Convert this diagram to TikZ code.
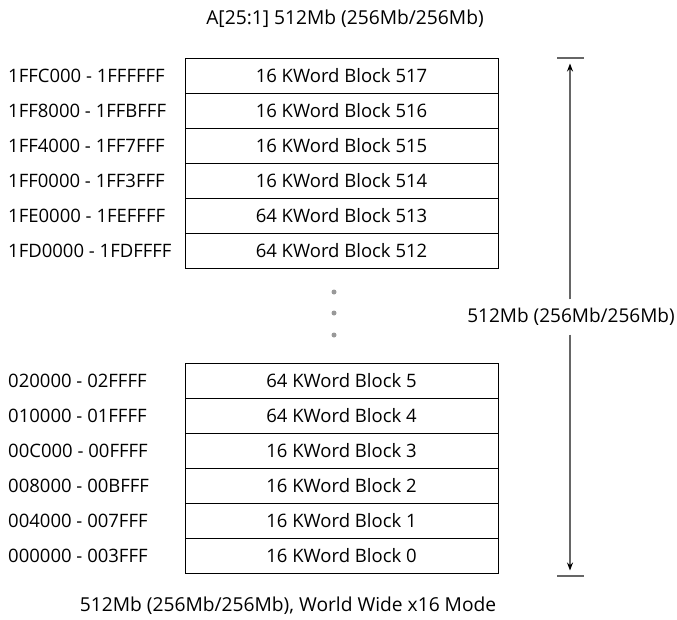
\documentclass[tikz,border=0pt]{standalone}
\usepackage{fontspec}
\setmainfont{Open Sans}
\usetikzlibrary{positioning,arrows.meta}

\begin{document}
\begin{tikzpicture}[
    x=1pt, y=-1pt,
    node distance=0pt,
    every node/.style={font=\fontsize{18.5}{22}\selectfont},
    block/.style={rectangle, draw, line width=1pt, outer sep=0pt, inner sep=0pt, minimum width=313pt, minimum height=35pt, anchor=north},
    addr/.style={anchor=west, inner sep=0pt},
    heading/.style={font=\fontsize{19.2}{23}\selectfont},
    vdot/.style={circle, fill=black!40, inner sep=0pt, minimum size=5pt},
    dimline/.style={draw=black!60, line width=1.2pt},
    arrow/.style={-{Stealth[length=8pt,width=6pt,black]}, draw=black!60, line width=1.2pt, shorten >=5.5pt},
    sizelabel/.style={fill=white, inner xsep=0pt, minimum height=35pt, font=\fontsize{19}{23}\selectfont}
]
\useasboundingbox (0,0) rectangle (677,619);

%% ---- Title ----
\node[heading] (title) at (345,19) {A[25:1] 512Mb (256Mb/256Mb)};

%% ---- Upper blocks ----
\node[block] (b517) at (341.5,58) {16 KWord Block 517};
\node[block, below=of b517] (b516) {16 KWord Block 516};
\node[block, below=of b516] (b515) {16 KWord Block 515};
\node[block, below=of b515] (b514) {16 KWord Block 514};
\node[block, below=of b514] (b513) {64 KWord Block 513};
\node[block, below=of b513] (b512) {64 KWord Block 512};

%% ---- Lower blocks ----
\node[block] (b5) at (341.5,363) {64 KWord Block 5};
\node[block, below=of b5] (b4) {64 KWord Block 4};
\node[block, below=of b4] (b3) {16 KWord Block 3};
\node[block, below=of b3] (b2) {16 KWord Block 2};
\node[block, below=of b2] (b1) {16 KWord Block 1};
\node[block, below=of b1] (b0) {16 KWord Block 0};

%% ---- Address ranges ----
\coordinate (lm) at (8,0);
\node[addr] (a517) at (b517 -| lm) {1FFC000 - 1FFFFFF};
\node[addr] (a516) at (b516 -| lm) {1FF8000 - 1FFBFFF};
\node[addr] (a515) at (b515 -| lm) {1FF4000 - 1FF7FFF};
\node[addr] (a514) at (b514 -| lm) {1FF0000 - 1FF3FFF};
\node[addr] (a513) at (b513 -| lm) {1FE0000 - 1FEFFFF};
\node[addr] (a512) at (b512 -| lm) {1FD0000 - 1FDFFFF};
\node[addr] (a5) at (b5 -| lm) {020000 - 02FFFF};
\node[addr] (a4) at (b4 -| lm) {010000 - 01FFFF};
\node[addr] (a3) at (b3 -| lm) {00C000 - 00FFFF};
\node[addr] (a2) at (b2 -| lm) {008000 - 00BFFF};
\node[addr] (a1) at (b1 -| lm) {004000 - 007FFF};
\node[addr] (a0) at (b0 -| lm) {000000 - 003FFF};

%% ---- Gap dots ----
\node[vdot] (dot1) at (334,292) {};
\node[vdot] (dot2) at (334,313) {};
\node[vdot] (dot3) at (334,335) {};

%% ---- Size dimension ----
\coordinate (dtop) at (570,58);
\coordinate (dbot) at (570,576);
\coordinate (tl1) at (557,58);
\coordinate (tr1) at (584,58);
\coordinate (tl2) at (557,576);
\coordinate (tr2) at (584,576);
\draw[dimline] (tl1) -- (tr1);
\draw[dimline] (tl2) -- (tr2);
\node[sizelabel] (size) at (571,317) {512Mb (256Mb/256Mb)};
\draw[arrow] (size.north -| dtop) -- (dtop);
\draw[arrow] (size.south -| dbot) -- (dbot);

%% ---- Caption ----
\node[heading] (caption) at (288,606) {512Mb (256Mb/256Mb), World Wide x16 Mode};

\end{tikzpicture}
\end{document}
